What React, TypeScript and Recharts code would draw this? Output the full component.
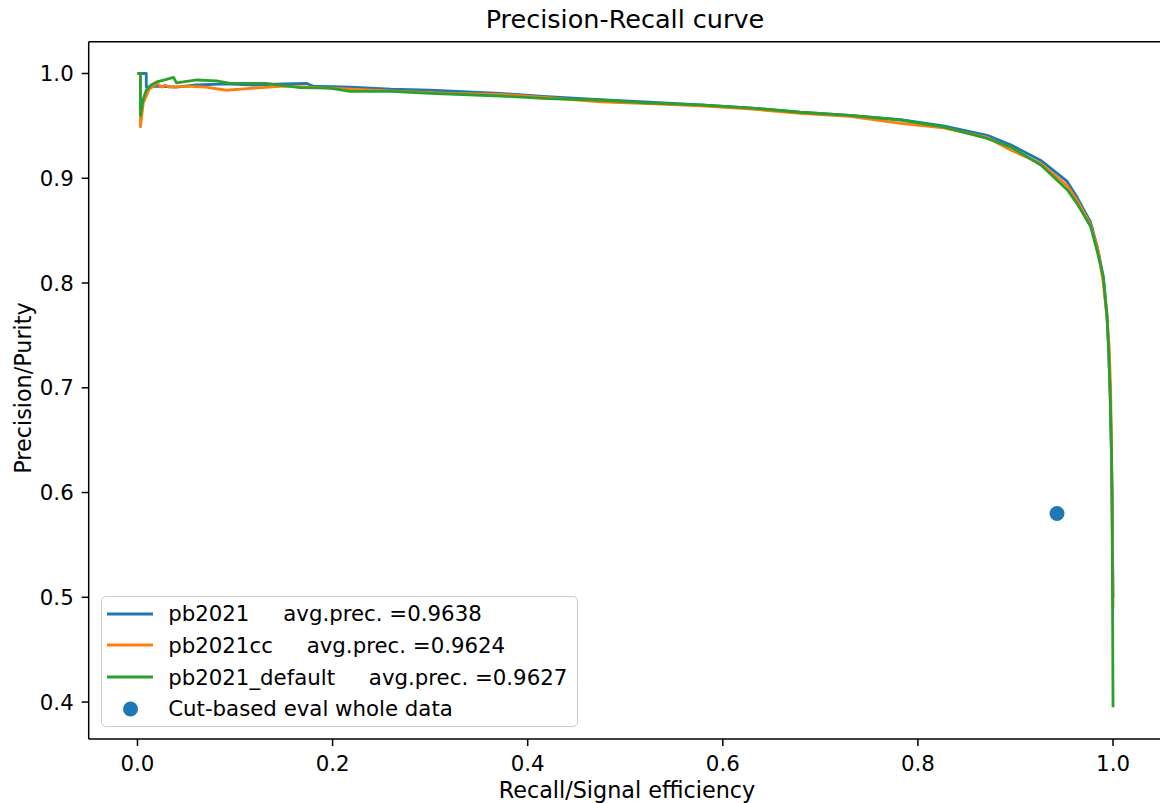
import React from 'react';
import { ComposedChart, Line, Scatter, XAxis, YAxis, Legend, Label, ReferenceLine } from 'recharts';

const FONT = '"DejaVu Sans", sans-serif';

const seriesNames = ['pb2021', 'pb2021cc', 'pb2021_default'];
const seriesColors = ['#1f77b4', '#ff7f0e', '#2ca02c'];
const avgPrecision = ['0.9638', '0.9624', '0.9627'];

// pb2021
const recallBlue = [0, 0.009, 0.009, 0.02, 0.04, 0.06, 0.09, 0.12, 0.15, 0.173, 0.18, 0.218, 0.26, 0.3, 0.372, 0.42, 0.474, 0.52, 0.577, 0.63, 0.679, 0.73, 0.782, 0.826, 0.871, 0.895, 0.926, 0.953, 0.963, 0.977, 0.984, 0.99, 0.9938, 0.9955, 0.9972, 0.9983, 0.999, 0.9995, 1.0];
const precisionBlue = [1.0, 1.0, 0.987, 0.988, 0.987, 0.989, 0.99, 0.989, 0.99, 0.9906, 0.988, 0.987, 0.985, 0.984, 0.981, 0.978, 0.975, 0.973, 0.97, 0.967, 0.963, 0.96, 0.956, 0.95, 0.941, 0.932, 0.917, 0.897, 0.882, 0.858, 0.834, 0.806, 0.77, 0.738, 0.69, 0.642, 0.598, 0.55, 0.5];

// pb2021cc
const recallOrange = [0, 0.003, 0.003, 0.006, 0.012, 0.02, 0.025, 0.028, 0.033, 0.05, 0.07, 0.091, 0.12, 0.15, 0.1666, 0.218, 0.27, 0.32, 0.372, 0.42, 0.474, 0.53, 0.577, 0.63, 0.679, 0.73, 0.782, 0.826, 0.871, 0.895, 0.926, 0.953, 0.963, 0.977, 0.985, 0.99, 0.9935, 0.996, 0.9975, 0.9985, 0.999, 0.9995, 1.0];
const precisionOrange = [1.0, 1.0, 0.949, 0.972, 0.985, 0.9906, 0.987, 0.989, 0.987, 0.988, 0.987, 0.984, 0.986, 0.988, 0.9874, 0.985, 0.983, 0.981, 0.98, 0.977, 0.973, 0.971, 0.969, 0.966, 0.962, 0.959, 0.9524, 0.948, 0.939, 0.927, 0.914, 0.893, 0.879, 0.856, 0.83, 0.8, 0.77, 0.74, 0.7, 0.64, 0.59, 0.54, 0.49];

// pb2021_default
const recallGreen = [0, 0.003, 0.003, 0.006, 0.009, 0.014, 0.0197, 0.028, 0.037, 0.04, 0.061, 0.081, 0.095, 0.132, 0.1666, 0.197, 0.218, 0.26, 0.3, 0.372, 0.42, 0.474, 0.52, 0.577, 0.63, 0.679, 0.73, 0.782, 0.826, 0.871, 0.895, 0.926, 0.953, 0.963, 0.977, 0.9836, 0.99, 0.9938, 0.9955, 0.9972, 0.9983, 0.999, 0.9995, 1.0];
const precisionGreen = [1.0, 1.0, 0.96, 0.976, 0.984, 0.989, 0.992, 0.994, 0.9963, 0.991, 0.9938, 0.993, 0.9906, 0.9906, 0.9865, 0.986, 0.983, 0.983, 0.981, 0.9785, 0.976, 0.9747, 0.972, 0.97, 0.967, 0.963, 0.96, 0.9556, 0.949, 0.938, 0.93, 0.9126, 0.889, 0.876, 0.854, 0.831, 0.806, 0.768, 0.736, 0.688, 0.64, 0.596, 0.5, 0.395];

// cut-based working point
const cutLabel = 'Cut-based eval whole data';
const cutRecall = [0.9426];
const cutPrecision = [0.58];

const xTicks = [0, 0.2, 0.4, 0.6, 0.8, 1.0];
const yTicks = [0.4, 0.5, 0.6, 0.7, 0.8, 0.9, 1.0];
const xDomain = [-0.05, 1.05];
const yDomain = [0.36475, 1.03025];

const toPoints = (r: number[], p: number[]) => r.map((x, i) => ({ recall: x, precision: p[i] }));

const curves = [
  toPoints(recallBlue, precisionBlue),
  toPoints(recallOrange, precisionOrange),
  toPoints(recallGreen, precisionGreen),
];
const cutPoints = toPoints(cutRecall, cutPrecision);

const axisStroke = { stroke: '#000', strokeWidth: 1.5 };
const tickStyle = { fill: '#000', fontSize: 21.3, fontFamily: FONT };

function LegendBox() {
  const row = { display: 'flex', alignItems: 'center', height: 31.8 } as const;
  return (
    <div
      style={{
        boxSizing: 'border-box',
        width: 477,
        height: 131.6,
        border: '1.5px solid #cccccc',
        borderRadius: 5,
        background: 'rgba(255,255,255,0.8)',
        paddingTop: 1,
        fontFamily: FONT,
        fontSize: 21.3,
        color: '#000',
        whiteSpace: 'pre',
      }}
    >
      {seriesNames.map((name, i) => (
        <div key={name} style={row}>
          <svg width={66.5} height={20} style={{ flex: 'none' }}>
            <line x1={5} x2={51} y1={10} y2={10} stroke={seriesColors[i]} strokeWidth={2.8} />
          </svg>
          <span>{`${name}     avg.prec. =${avgPrecision[i]}`}</span>
        </div>
      ))}
      <div style={row}>
        <svg width={66.5} height={20} style={{ flex: 'none' }}>
          <circle cx={28.5} cy={10} r={7.5} fill={seriesColors[0]} />
        </svg>
        <span>{cutLabel}</span>
      </div>
    </div>
  );
}

export default function App() {
  return (
    <div
      style={{
        position: 'absolute',
        left: 0,
        top: 0,
        width: 1160,
        height: 803,
        overflow: 'hidden',
        background: '#fff',
        fontFamily: FONT,
      }}
    >
      <ComposedChart width={1170} height={803} margin={{ top: 41.8, right: 8.2, bottom: 0, left: 0 }}>
        <XAxis
          dataKey="recall"
          type="number"
          domain={xDomain}
          ticks={xTicks}
          allowDataOverflow
          tickFormatter={(v: number) => v.toFixed(1)}
          height={64}
          tickSize={7}
          tickMargin={10}
          tick={tickStyle}
          tickLine={axisStroke}
          axisLine={axisStroke}
        >
          <Label
            content={() => (
              <text x={627} y={798} textAnchor="middle" fontSize={22.3} fontFamily={FONT} fill="#000">
                Recall/Signal efficiency
              </text>
            )}
          />
        </XAxis>
        <YAxis
          type="number"
          domain={yDomain}
          ticks={yTicks}
          allowDataOverflow
          tickFormatter={(v: number) => v.toFixed(1)}
          width={88.7}
          tickSize={7}
          tickMargin={8}
          tick={tickStyle}
          tickLine={axisStroke}
          axisLine={axisStroke}
        >
          <Label
            content={() => (
              <text
                x={-388}
                y={31}
                transform="rotate(-90)"
                textAnchor="middle"
                fontSize={22.3}
                fontFamily={FONT}
                fill="#000"
              >
                Precision/Purity
              </text>
            )}
          />
        </YAxis>
        <ReferenceLine
          y={yDomain[1]}
          stroke="#000"
          strokeWidth={1.5}
          ifOverflow="visible"
          label={
            <Label
              content={() => (
                <text x={625} y={28} textAnchor="middle" fontSize={25.5} fontFamily={FONT} fill="#000">
                  Precision-Recall curve
                </text>
              )}
            />
          }
        />
        <ReferenceLine x={xDomain[1]} stroke="#000" strokeWidth={1.5} ifOverflow="visible" />
        {curves.map((pts, i) => (
          <Line
            key={seriesNames[i]}
            data={pts}
            dataKey="precision"
            name={seriesNames[i]}
            type="linear"
            stroke={seriesColors[i]}
            strokeWidth={2.8}
            strokeLinejoin="round"
            dot={false}
            activeDot={false}
            isAnimationActive={false}
          />
        ))}
        <Scatter
          data={cutPoints}
          dataKey="precision"
          name={cutLabel}
          isAnimationActive={false}
          shape={(p: any) => <circle cx={p.cx} cy={p.cy} r={7.5} fill={seriesColors[0]} />}
        />
        <Legend
          verticalAlign="middle"
          align="center"
          layout="horizontal"
          wrapperStyle={{ left: 100.7, top: 595.7, width: 477, height: 131.6 }}
          content={() => <LegendBox />}
        />
      </ComposedChart>
    </div>
  );
}
